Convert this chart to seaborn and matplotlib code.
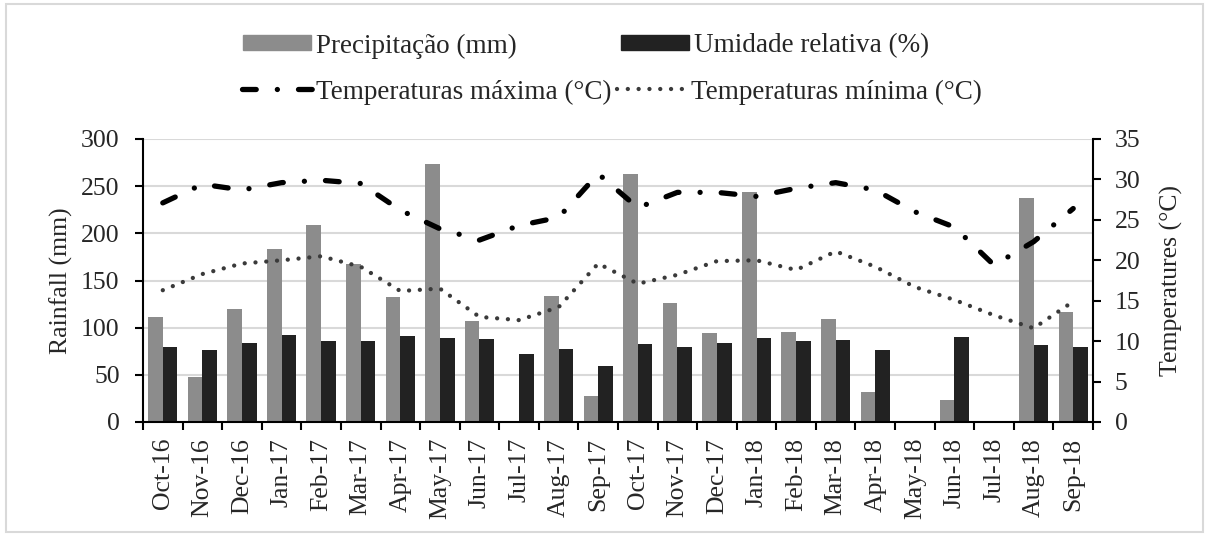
import matplotlib

matplotlib.use("Agg")

import matplotlib.pyplot as plt
import pandas as pd
import seaborn as sns
from matplotlib.lines import Line2D
from matplotlib.patches import Patch, Rectangle

months = [
    "Oct-16", "Nov-16", "Dec-16", "Jan-17", "Feb-17", "Mar-17", "Apr-17", "May-17",
    "Jun-17", "Jul-17", "Aug-17", "Sep-17", "Oct-17", "Nov-17", "Dec-17", "Jan-18",
    "Feb-18", "Mar-18", "Apr-18", "May-18", "Jun-18", "Jul-18", "Aug-18", "Sep-18",
]
rainfall = [111, 48, 120, 183, 209, 167, 133, 274, 107, 0, 134, 28,
            263, 126, 94, 244, 95, 109, 32, 0, 23, 0, 237, 117]
humidity = [80, 76, 84, 92, 86, 86, 91, 89, 88, 72, 77, 59,
            83, 80, 84, 89, 86, 87, 76, 0, 90, 0, 82, 80]
temp_max = [27.1, 29.4, 28.7, 29.6, 29.9, 29.5, 26.2, 23.9, 22.5, 24.3, 25.3, 30.7,
            26.5, 28.4, 28.4, 27.9, 28.9, 29.6, 28.7, 26.0, 24.1, 19.4, 22.3, 26.4]
temp_min = [16.3, 18.3, 19.6, 20.0, 20.5, 19.2, 16.2, 16.5, 13.0, 12.6, 14.2, 19.6,
            17.1, 18.2, 19.9, 20.0, 18.8, 21.1, 19.2, 16.7, 15.1, 13.2, 11.6, 14.9]

lbl_rain = "Precipitação (mm)"
lbl_hum = "Umidade relativa (%)"
lbl_tmax = "Temperaturas máxima (°C)"
lbl_tmin = "Temperaturas mínima (°C)"

bars = pd.DataFrame({
    "month": months * 2,
    "value": rainfall + humidity,
    "series": [lbl_rain] * len(months) + [lbl_hum] * len(months),
})
temps = pd.DataFrame({"month": months, "tmax": temp_max, "tmin": temp_min})

sns.set_theme(style="white")
plt.rcParams["font.family"] = ["Liberation Serif", "DejaVu Serif"]
FS = 18.5   # axis text
LFS = 19.5  # legend text

fig = plt.figure(figsize=(12.09, 5.36), dpi=100)
ax = fig.add_axes([143 / 1209, 1 - 422 / 536, 950 / 1209, 283 / 536])

sns.barplot(
    data=bars, x="month", y="value", hue="series",
    palette=["#8c8c8c", "#222222"], width=0.74, gap=0, linewidth=0,
    saturation=1, legend=False, ax=ax, zorder=2,
)
ax.set_ylim(0, 300)
ax.set_xlim(-0.5, len(months) - 0.5)
ax.set_yticks(range(0, 301, 50))
ax.yaxis.grid(True, color="#d9d9d9", lw=1.5, zorder=0)
ax.set_axisbelow(True)
ax.set_xlabel("")
ax.set_ylabel("Rainfall (mm)", fontsize=FS, labelpad=6)

ax.set_xticks(range(len(months)))
ax.set_xticklabels(months, rotation=90, fontsize=FS)
ax.set_xticks([i - 0.5 for i in range(len(months) + 1)], minor=True)
ax.tick_params(axis="x", which="major", bottom=True, length=0, pad=11.5)
ax.tick_params(axis="x", which="minor", bottom=True, length=5.8, width=1.5,
               color="black", direction="out")
ax.tick_params(axis="y", left=True, length=5.8, width=1.5, color="black",
               direction="out", labelsize=FS, pad=11)

for side in ["left", "bottom"]:
    ax.spines[side].set_color("black")
    ax.spines[side].set_linewidth(1.5)
ax.spines["top"].set_visible(False)
ax.spines["right"].set_visible(False)

ax2 = ax.twinx()
max_dash = (2.6, 4.0, 0.01, 4.0)
min_dash = (0.01, 2.5)
sns.lineplot(data=temps, x="month", y="tmax", ax=ax2, color="black", lw=3.8,
             sort=False, dashes=False)
sns.lineplot(data=temps, x="month", y="tmin", ax=ax2, color="#3a3a3a", lw=3.1,
             sort=False, dashes=False)
ax2.lines[0].set_dashes(max_dash)
ax2.lines[0].set_dash_capstyle("round")
ax2.lines[1].set_dashes(min_dash)
ax2.lines[1].set_dash_capstyle("round")
ax2.set_ylim(0, 35)
ax2.set_yticks(range(0, 36, 5))
ax2.set_xlim(-0.5, len(months) - 0.5)
ax2.set_xlabel("")
ax2.set_ylabel("Temperatures (°C)", fontsize=FS, labelpad=14)
ax2.tick_params(axis="y", right=True, length=5.8, width=1.5, color="black",
                direction="out", labelsize=FS, pad=10)
ax2.grid(False)
for side in ["top", "left", "bottom"]:
    ax2.spines[side].set_visible(False)
ax2.spines["right"].set_color("black")
ax2.spines["right"].set_linewidth(1.5)

bar_handles = [Patch(color="#8c8c8c", label=lbl_rain), Patch(color="#222222", label=lbl_hum)]
fig.legend(
    handles=bar_handles, loc="center", bbox_to_anchor=(586 / 1209, 1 - 46 / 536),
    ncol=2, frameon=False, fontsize=LFS, handlelength=2.5, handleheight=0.48,
    handletextpad=0.18, columnspacing=3.85, borderpad=0,
)
line_handles = [
    Line2D([], [], color="black", lw=3.8, dashes=max_dash, dash_capstyle="round", label=lbl_tmax),
    Line2D([], [], color="#3a3a3a", lw=3.1, dashes=min_dash, dash_capstyle="round", label=lbl_tmin),
]
fig.legend(
    handles=line_handles, loc="center", bbox_to_anchor=(612 / 1209, 1 - 92 / 536),
    ncol=2, frameon=False, fontsize=LFS, handlelength=2.6,
    handletextpad=0.15, columnspacing=0.2, borderpad=0,
)

fig.patches.append(Rectangle((6 / 1209, 4 / 536), 1197 / 1209, 528 / 536, fill=False,
                             edgecolor="#d9d9d9", lw=1.5, transform=fig.transFigure))

fig.savefig("out.png", dpi=100)
